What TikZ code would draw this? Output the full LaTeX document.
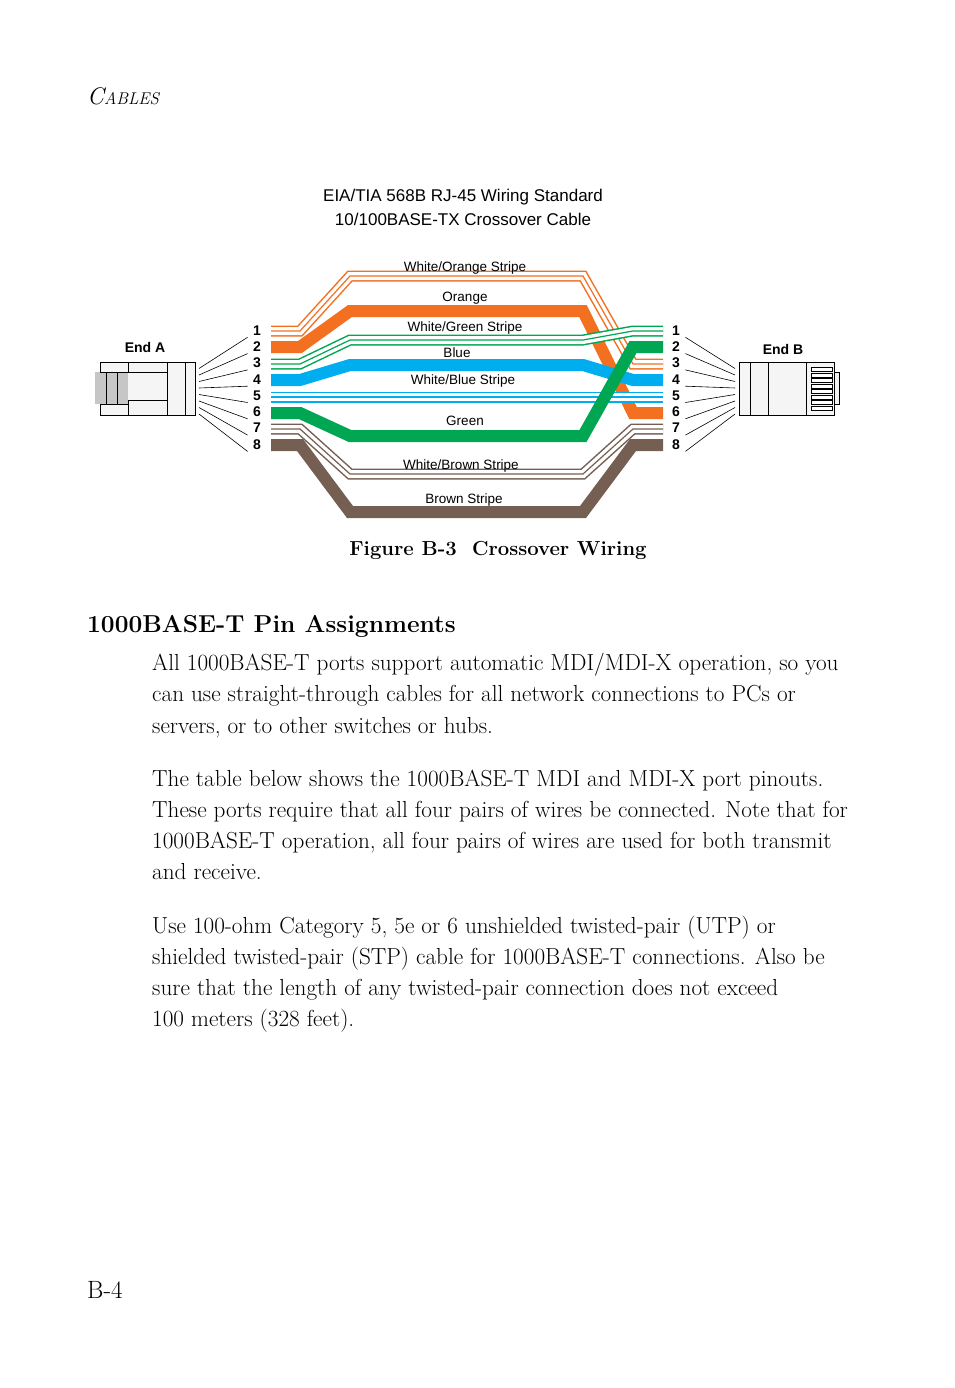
\documentclass[tikz,border=0pt]{standalone}
\usepackage{fontspec}
\setsansfont{Liberation Sans}
\usetikzlibrary{calc}
\definecolor{wor}{RGB}{243,112,33}
\definecolor{wgr}{RGB}{0,166,81}
\definecolor{wbl}{RGB}{0,174,239}
\definecolor{wbr}{RGB}{117,94,82}
\tikzset{
	wire/.style={line width=12pt},
	lbl/.style={font=\sffamily\fontsize{13.5}{13.5}\selectfont},
	pin/.style={font=\sffamily\bfseries\fontsize{14}{14}\selectfont},
	body/.style={anchor=base west,font=\fontsize{23.2}{23.2}\selectfont,inner sep=0pt}
}
\newcommand{\stripe}[2]{%
	\draw[#1,line width=11pt] #2;
	\draw[white,line width=8pt] #2;
	\draw[#1,line width=1.2pt] #2;
}
\begin{document}
\begin{tikzpicture}[x=1pt,y=-1pt,line join=miter]
\useasboundingbox (0,0) rectangle (954,1388);

\node[anchor=base west,font=\itshape\fontsize{24}{24}\selectfont,inner sep=0pt] (hdr) at (87,105) {C\fontsize{17}{17}\selectfont ABLES};

\node[font=\sffamily\fontsize{17}{17}\selectfont,align=center] (title) at (463,207) {EIA/TIA 568B RJ-45 Wiring Standard\\[7pt]10/100BASE-TX Crossover Cable};

%wires
\stripe{wor}{(271,331)--(300,331)--(350,276)--(583,276)--(633,364)--(663,364)}
\draw[wor,wire] (271,347)--(300,347)--(350,311)--(583,311)--(633,413)--(663,413);
\stripe{wgr}{(271,364)--(300,364)--(350,340)--(583,340)--(633,331)--(663,331)}
\draw[wbl,wire] (271,380)--(300,380)--(350,365)--(583,365)--(633,380)--(663,380);
\stripe{wbl}{(271,397)--(663,397)}
\draw[wgr,wire] (271,413)--(300,413)--(350,436)--(583,436)--(633,347)--(663,347);
\stripe{wbr}{(271,429)--(300,429)--(350,474)--(583,474)--(633,429)--(663,429)}
\draw[wbr,wire] (271,445)--(300,445)--(350,512)--(583,512)--(633,445)--(663,445);

%labels
\node[lbl] (l1) at (465,268) {White/Orange Stripe};
\node[lbl] (l2) at (465,298) {Orange};
\node[lbl] (l3) at (465,328) {White/Green Stripe};
\node[lbl] (l4) at (457,353) {Blue};
\node[lbl] (l5) at (463,381) {White/Blue Stripe};
\node[lbl] (l6) at (465,421) {Green};
\node[lbl] (l7) at (461,466) {White/Brown Stripe};
\node[lbl] (l8) at (464,500) {Brown Stripe};

%pins and fans
\foreach \i in {1,...,8}{
	\node[pin] (pa\i) at (257,314+16.3*\i) {\i};
	\node[pin] (pb\i) at (676,314+16.3*\i) {\i};
	\draw[line width=0.6pt] (199,362+6.5*\i) -- ($(pa\i.west)+(-2,7)$);
	\draw[line width=0.6pt] (735,362+6.5*\i) -- ($(pb\i.east)+(2,7)$);
}

%End A
\node[font=\sffamily\bfseries\fontsize{14}{14}\selectfont] (enda) at (145,347) {End A};
\draw[line width=0.6pt,fill=gray!8] (100,362) rectangle (195,415);
\fill[gray!45] (95,372) rectangle (128,404);
\draw[line width=0.6pt] (100,372)--(128,372) (100,404)--(128,404) (106,372)--(106,404) (117,372)--(117,404);
\draw[line width=0.6pt] (128,362)--(128,372)--(167,372)--(167,400)--(128,400)--(128,415);
\draw[line width=0.6pt] (167,362)--(167,415) (185,362)--(185,415);

%End B
\node[font=\sffamily\bfseries\fontsize{14}{14}\selectfont] (endb) at (783,349) {End B};
\draw[line width=0.6pt,fill=gray!10] (834,372) rectangle (839,404);
\draw[line width=0.6pt,fill=gray!8] (739,362) rectangle (834,415);
\draw[line width=0.6pt] (750,362)--(750,415) (768,362)--(768,415) (806,362)--(806,415);
\foreach \k in {0,...,7}
	\draw[line width=0.6pt,fill=white] (811,367.5+5.5*\k) rectangle (832,371.5+5.5*\k);

\node[font=\bfseries\fontsize{20.3}{20.3}\selectfont] (cap) at (498,550) {Figure B-3\ \ Crossover Wiring};

\node[anchor=base west,inner sep=0pt,font=\bfseries\fontsize{24.5}{24.5}\selectfont] (sec) at (87,632) {1000BASE-T Pin Assignments};

\node[body] (p1a) at (152,670) {All 1000BASE-T ports support automatic MDI/MDI-X operation, so you};
\node[body] (p1b) at (152,701) {can use straight-through cables for all network connections to PCs or};
\node[body] (p1c) at (152,733) {servers, or to other switches or hubs.};
\node[body] (p2a) at (152,786) {The table below shows the 1000BASE-T MDI and MDI-X port pinouts.};
\node[body] (p2b) at (152,817) {These ports require that all four pairs of wires be connected. Note that for};
\node[body] (p2c) at (152,848) {1000BASE-T operation, all four pairs of wires are used for both transmit};
\node[body] (p2d) at (152,879) {and receive.};
\node[body] (p3a) at (152,933) {Use 100-ohm Category 5, 5e or 6 unshielded twisted-pair (UTP) or};
\node[body] (p3b) at (152,964) {shielded twisted-pair (STP) cable for 1000BASE-T connections. Also be};
\node[body] (p3c) at (152,995) {sure that the length of any twisted-pair connection does not exceed};
\node[body] (p3d) at (152,1026) {100 meters (328 feet).};

\node[anchor=base west,inner sep=0pt,font=\fontsize{25}{25}\selectfont] (pg) at (87,1298) {B-4};
\end{tikzpicture}
\end{document}
